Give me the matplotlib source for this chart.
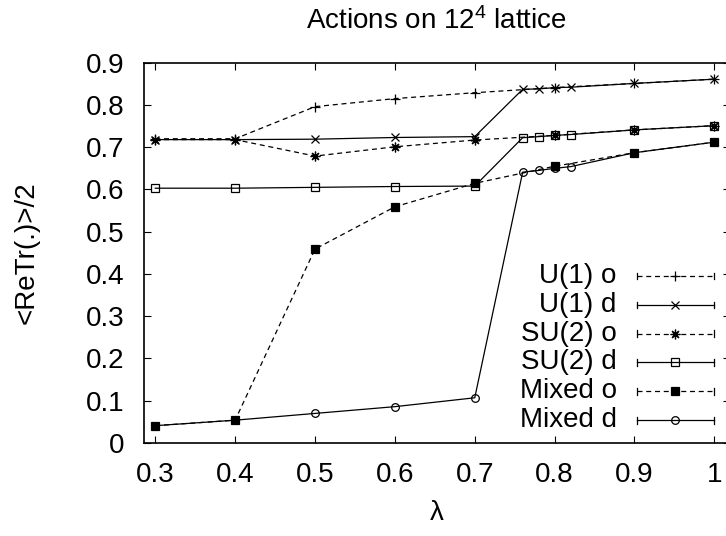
import matplotlib
matplotlib.use('Agg')
import matplotlib.pyplot as plt

plt.rcParams['font.family'] = ['Liberation Sans', 'DejaVu Sans']
plt.rcParams['mathtext.fontset'] = 'custom'
plt.rcParams['mathtext.rm'] = 'Liberation Sans'
plt.rcParams['mathtext.default'] = 'regular'

# ----- data -----
lam_coarse = [0.3, 0.4, 0.5, 0.6, 0.7, 0.8, 0.9, 1.0]
lam_fine = [0.3, 0.4, 0.5, 0.6, 0.7, 0.76, 0.78, 0.8, 0.82, 0.9, 1.0]

u1_o = [0.720, 0.720, 0.796, 0.815, 0.829, 0.841, 0.851, 0.861]
u1_d = [0.718, 0.718, 0.719, 0.723, 0.725, 0.837, 0.838, 0.841, 0.842, 0.851, 0.861]
su2_o = [0.718, 0.718, 0.679, 0.701, 0.717, 0.728, 0.741, 0.751]
su2_d = [0.603, 0.603, 0.605, 0.607, 0.608, 0.7225, 0.725, 0.728, 0.730, 0.741, 0.751]
mixed_o = [0.041, 0.054, 0.459, 0.559, 0.6145, 0.655, 0.687, 0.712]
mixed_d = [0.041, 0.054, 0.070, 0.086, 0.107, 0.641, 0.645, 0.650, 0.654, 0.687, 0.712]

labels = ['U(1) o', 'U(1) d', 'SU(2) o', 'SU(2) d', 'Mixed o', 'Mixed d']
xticks = [0.3, 0.4, 0.5, 0.6, 0.7, 0.8, 0.9, 1.0]
xticklabels = ['0.3', '0.4', '0.5', '0.6', '0.7', '0.8', '0.9', '1']
yticks = [0, 0.1, 0.2, 0.3, 0.4, 0.5, 0.6, 0.7, 0.8, 0.9]
yticklabels = ['0', '0.1', '0.2', '0.3', '0.4', '0.5', '0.6', '0.7', '0.8', '0.9']

dash = (0, (4, 3))
asterisk = (8, 2, 0)
series = [
    (lam_coarse, u1_o, dash, '+', 'k', 7),
    (lam_fine, u1_d, '-', 'x', 'k', 6),
    (lam_coarse, su2_o, dash, asterisk, 'k', 7),
    (lam_fine, su2_d, '-', 's', 'none', 5.5),
    (lam_coarse, mixed_o, dash, 's', 'k', 5.5),
    (lam_fine, mixed_d, '-', 'o', 'none', 5.5),
]

W, H = 726, 536
fig = plt.figure(figsize=(W / 100, H / 100), dpi=100)
left, right, top, bottom = 143.7, 730, 62.7, 443
ax = fig.add_axes([left / W, (H - bottom) / H, (right - left) / W, (bottom - top) / H])

for x, y, ls, mk, mfc, ms in series:
    ax.plot(x, y, color='k', linestyle=ls, linewidth=0.9, marker=mk,
            markersize=ms, markerfacecolor=mfc, markeredgecolor='k',
            markeredgewidth=0.9, clip_on=False)

ax.set_xlim(0.2855, 1.0196)
ax.set_ylim(0, 0.9)
ax.set_xticks(xticks)
ax.set_xticklabels(xticklabels)
ax.set_yticks(yticks)
ax.set_yticklabels(yticklabels)
ax.tick_params(direction='in', length=5, width=0.8, top=True, right=True,
               labelsize=20)
ax.tick_params(axis='x', pad=14)
ax.tick_params(axis='y', pad=14)
for s in ax.spines.values():
    s.set_linewidth(1.2)

ax.set_title('Actions on 12$^4$ lattice', fontsize=20, pad=24)
ax.set_xlabel('λ', fontsize=20, labelpad=8)
ax.set_ylabel('<ReTr(.)>/2', fontsize=20, labelpad=33)

# ----- legend in gnuplot style (text left of sample, caps at both ends) -----
text_x, x0, x1, xm = 0.807, 0.841, 0.972, 0.906
row_y = [0.439, 0.363, 0.287, 0.212, 0.136, 0.060]
for (x, y, ls, mk, mfc, ms), lab, yy in zip(series, labels, row_y):
    ax.text(text_x, yy, lab, transform=ax.transAxes, ha='right', va='center',
            fontsize=20)
    ax.plot([x0, x1], [yy, yy], transform=ax.transAxes, color='k',
            linestyle=ls, linewidth=0.9)
    for xc in (x0, x1):
        ax.plot([xc, xc], [yy - 0.009, yy + 0.009], transform=ax.transAxes,
                color='k', linewidth=0.9)
    ax.plot([xm], [yy], transform=ax.transAxes, color='k', marker=mk,
            markersize=ms, markerfacecolor=mfc, markeredgecolor='k',
            markeredgewidth=0.9)

fig.savefig('out.png', dpi=100)
